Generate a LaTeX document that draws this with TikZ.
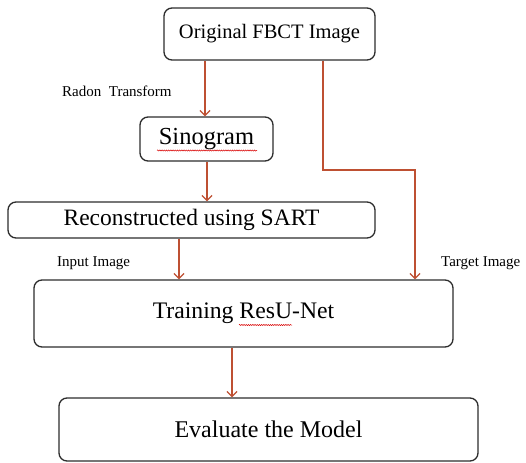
\documentclass[tikz,border=0pt]{standalone}
\usepackage{fontspec}
\setmainfont{Liberation Serif}
\usetikzlibrary{arrows.meta,decorations.pathmorphing}
\definecolor{arrcol}{RGB}{190,80,50}
\definecolor{boxcol}{RGB}{45,45,45}
\tikzset{
  box/.style={draw=boxcol, line width=1.3pt, rounded corners=8pt, inner sep=0pt, align=center},
  arr/.style={draw=arrcol, line width=1.3pt, -{Straight Barb[length=5pt,width=10pt]}},
  conn/.style={draw=arrcol, line width=1.3pt},
  lbl/.style={inner sep=0pt, anchor=base west, font=\fontsize{15}{17}\selectfont},
  squig/.style={draw=red!85!black, line width=0.5pt, decorate, decoration={snake, segment length=2.2pt, amplitude=0.6pt}}
}
\begin{document}
\begin{tikzpicture}[x=1pt,y=-1pt]
\useasboundingbox (0,0) rectangle (526,462);
\fill[white] (0,0) rectangle (526,462);
\node[box, minimum width=211pt, minimum height=52pt, font=\fontsize{20.5}{24}\selectfont] (orig) at (269.5,34) {Original FBCT Image};
\node[box, minimum width=133pt, minimum height=44pt, font=\fontsize{24.5}{28}\selectfont] (sino) at (206.5,139) {Sinogram};
\node[box, minimum width=367pt, minimum height=36pt, font=\fontsize{23.5}{27}\selectfont] (rec) at (191.5,220) {Reconstructed using SART};
\node[box, minimum width=419pt, minimum height=67pt, font=\fontsize{23.7}{27}\selectfont] (train) at (243.5,313.5) {Training ResU-Net};
\node[box, minimum width=419pt, minimum height=63pt, font=\fontsize{24}{28}\selectfont] (eval) at (268.5,429.5) {Evaluate the Model};
\node[lbl] (radon) at (62,97) {Radon\ \ Transform};
\node[lbl] (inp) at (57,266) {Input Image};
\node[lbl] (tgt) at (441,266) {Target Image};
\coordinate (x1) at (205,0);
\coordinate (x2) at (207,0);
\coordinate (x3) at (179,0);
\coordinate (x4) at (323,0);
\coordinate (x5) at (415,170);
\coordinate (x6) at (232,0);
\draw[arr] (orig.south -| x1) -- (sino.north -| x1);
\draw[arr] (sino.south -| x2) -- (rec.north -| x2);
\draw[arr] (rec.south -| x3) -- (train.north -| x3);
\draw[arr] (orig.south -| x4) -- (x4 |- x5) -- (x5) -- (train.north -| x5);
\draw[arr] (train.south -| x6) -- (eval.north -| x6);
\coordinate (s1) at (157,150.5);
\coordinate (s2) at (257,150.5);
\coordinate (s3) at (239,325);
\coordinate (s4) at (292,325);
\draw[squig] (s1) -- (s2);
\draw[squig] (s3) -- (s4);
\end{tikzpicture}
\end{document}
